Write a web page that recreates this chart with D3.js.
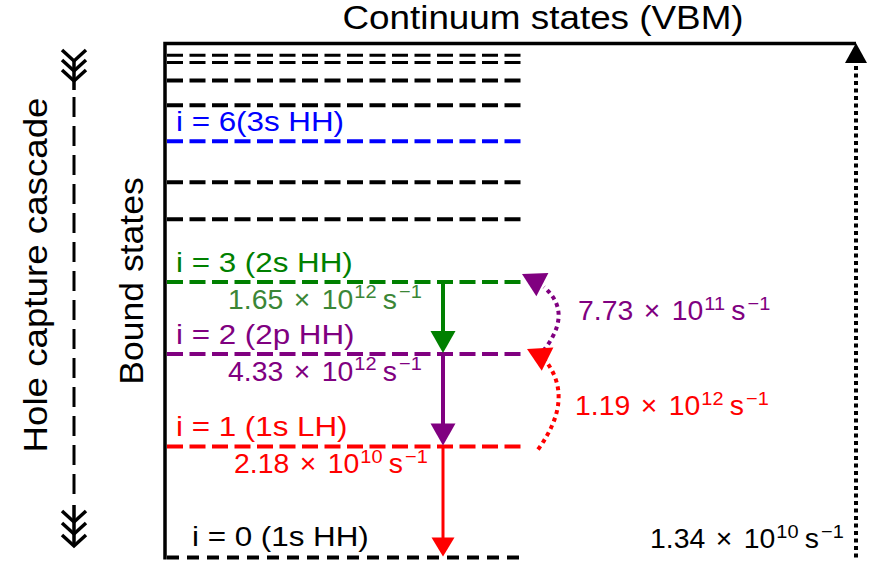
<!DOCTYPE html>
<html>
<head>
<meta charset="utf-8">
<script src="https://cdn.jsdelivr.net/npm/d3@7"></script>
<style>
  html, body { margin: 0; padding: 0; background: #fff; }
  svg { display: block; font-family: "Liberation Sans", Arial, Helvetica, sans-serif; }
</style>
</head>
<body>
<svg id="chart" width="871" height="565"></svg>
<script>
// Hole bound-state ladder, heights on a 0 (ground state) .. 100 (VBM) scale
const levelIndex  = [0, 1, 2, 3, 4, 5, 6, 7, 8, 9, 10];
const levelHeight = [0, 21.6, 39.6, 53.6, 65.8, 73.0, 81.0, 88.0, 92.8, 96.3, 97.7];
const levelColor  = ["black", "red", "purple", "green", "black", "black", "blue", "black", "black", "black", "black"];
const levelLabel  = ["i = 0 (1s HH)", "i = 1 (1s LH)", "i = 2 (2p HH)", "i = 3 (2s HH)", "", "", "i = 6(3s HH)", "", "", "", ""];
const vbmHeight = 100;

// Downward relaxation steps of the capture cascade
const cascadeFrom     = [3, 2, 1];
const cascadeTo       = [2, 1, 0];
const cascadeMantissa = ["1.65", "4.33", "2.18"];
const cascadeExponent = ["12", "12", "10"];
const cascadeTextColor = ["#3b8636", "purple", "red"];

// Upward re-excitation between the lowest excited states
const upFrom     = [2, 1];
const upTo       = [3, 2];
const upMantissa = ["7.73", "1.19"];
const upExponent = ["11", "12"];

// Escape from the ground state back to the continuum
const escapeMantissa = "1.34";
const escapeExponent = "10";

const svg = d3.select("#chart");
const FONT = 28.5;

const y = d3.scaleLinear().domain([0, vbmHeight]).range([557.5, 43.5]);
const frameLeft = 165, frameRight = 856;
const lineX0 = 167, lineX1 = 521;
const arrowX = 443;

// ---- frame: left edge (bound states) and the continuum edge on top
svg.append("path")
  .attr("d", `M${frameLeft},${y(0) + 2}V${y(vbmHeight)}H${frameRight}`)
  .attr("fill", "none").attr("stroke", "black").attr("stroke-width", 3.5);

svg.append("g").attr("transform", `translate(543,29) scale(1.1,1)`)
  .append("text").attr("text-anchor", "middle").attr("font-size", 33.5)
  .text("Continuum states (VBM)");

// ---- level lines
const levels = levelIndex.map((i, k) => ({ i, h: levelHeight[k], color: levelColor[k], label: levelLabel[k] }));

svg.append("g").selectAll("line").data(levels).join("line")
  .attr("x1", lineX0).attr("x2", lineX1)
  .attr("y1", d => y(d.h)).attr("y2", d => y(d.h))
  .attr("stroke", d => d.color)
  .attr("stroke-width", d => d.i >= 9 ? 3 : 4)
  .attr("stroke-dasharray", d => d.i === 0 ? "12,8" : "16,6.5");

// level labels
svg.append("g").selectAll("g").data(levels.filter(d => d.label)).join("g")
  .attr("transform", d => d.i === 0
      ? `translate(192,${y(d.h) - 12}) scale(1.1,1)`
      : `translate(176,${y(d.h) - 10}) scale(1.1,1)`)
  .append("text")
  .attr("font-size", FONT)
  .attr("fill", d => d.color)
  .text(d => d.label);

// ---- helpers
function triangle(tip, dir, len, hw) {
  const n = Math.hypot(dir[0], dir[1]);
  const ux = dir[0] / n, uy = dir[1] / n;
  const bx = tip[0] - ux * len, by = tip[1] - uy * len;
  return `M${tip[0]},${tip[1]}L${bx - uy * hw},${by + ux * hw}L${bx + uy * hw},${by - ux * hw}Z`;
}

function rateLabel(x, yb, mant, exp, color) {
  const g = svg.append("g").attr("transform", `translate(${x},${yb}) scale(1.05,1)`);
  const t = g.append("text").attr("font-size", 27).attr("fill", color);
  t.append("tspan").text(mant);
  t.append("tspan").attr("dx", 10).text("\u00d7");
  t.append("tspan").attr("dx", 11).text("10");
  t.append("tspan").attr("dx", 1).attr("dy", -10.5).attr("font-size", 19).text(exp);
  t.append("tspan").attr("dx", 6).attr("dy", 10.5).text("s");
  t.append("tspan").attr("dx", 2).attr("dy", -10.5).attr("font-size", 19).text("\u22121");
}

// ---- downward cascade arrows
const hOf = i => levelHeight[levelIndex.indexOf(i)];
cascadeFrom.forEach((f, k) => {
  const t = cascadeTo[k];
  const y0 = y(hOf(f)), y1 = y(hOf(t));
  const col = levelColor[levelIndex.indexOf(f)];
  const isLast = t === 0;
  const headLen = isLast ? 19 : 22, hw = isLast ? 11.5 : 12.5;
  svg.append("line")
    .attr("x1", arrowX).attr("x2", arrowX)
    .attr("y1", y0).attr("y2", y1 - headLen + 1)
    .attr("stroke", col).attr("stroke-width", isLast ? 3 : 4);
  svg.append("path").attr("d", triangle([arrowX, y1 - 1], [0, 1], headLen, hw)).attr("fill", col);
  rateLabel(isLast ? 234 : 228, y0 + 27, cascadeMantissa[k], cascadeExponent[k], cascadeTextColor[k]);
});

// ---- upward dotted re-excitation arrows
const upLabelPos = [[578, 320], [575, 415]];
upFrom.forEach((f, k) => {
  const t = upTo[k];
  const y0 = y(hOf(f)), y1 = y(hOf(t));
  const col = levelColor[levelIndex.indexOf(f)];
  const p0 = [538, y0 + 3], p2 = [544, y1 + 5], p1 = [576, (y0 + y1) / 2 - 3];
  const p = d3.path();
  p.moveTo(p0[0], p0[1]);
  p.quadraticCurveTo(p1[0], p1[1], p2[0], p2[1]);
  svg.append("path").attr("d", p.toString())
    .attr("fill", "none").attr("stroke", col).attr("stroke-width", 4)
    .attr("stroke-dasharray", "4,4");
  const tip = [f === 2 ? 522 : 527, y1 - (f === 2 ? 8 : 5)];
  svg.append("path").attr("d", triangle(tip, [tip[0] - (p2[0] + 1), tip[1] - (p2[1] - 1)], 23, 13)).attr("fill", col);
  rateLabel(upLabelPos[k][0], upLabelPos[k][1], upMantissa[k], upExponent[k], col);
});

// ---- escape to the continuum
svg.append("line")
  .attr("x1", frameRight).attr("x2", frameRight)
  .attr("y1", y(0)).attr("y2", y(vbmHeight) + 19)
  .attr("stroke", "black").attr("stroke-width", 4).attr("stroke-dasharray", "4,3.5");
svg.append("path").attr("d", triangle([frameRight, y(vbmHeight) - 0.5], [0, -1], 20, 11)).attr("fill", "black");
rateLabel(650, 548, escapeMantissa, escapeExponent, "black");

// ---- axis titles
svg.append("g").attr("transform", "translate(46.5,275) rotate(-90) scale(1.08,1)")
  .append("text").attr("text-anchor", "middle").attr("font-size", 34).text("Hole capture cascade");
svg.append("g").attr("transform", "translate(143,281) rotate(-90) scale(1.045,1)")
  .append("text").attr("text-anchor", "middle").attr("font-size", 34).text("Bound states");

// ---- cascade direction arrow with fletching and head
const cx = 74;
function chevron(vy, hw, h) {
  return `M${cx - hw},${vy - h}L${cx},${vy}L${cx + hw},${vy - h}`;
}
const casc = svg.append("g").attr("stroke", "black").attr("fill", "none").attr("stroke-width", 3.5);
[61, 71, 81].forEach(v => casc.append("path").attr("d", chevron(v, 12, 11)));
casc.append("line").attr("x1", cx).attr("x2", cx).attr("y1", 61).attr("y2", 90);
casc.append("line").attr("x1", cx).attr("x2", cx).attr("y1", 97).attr("y2", 500)
  .attr("stroke-width", 3).attr("stroke-dasharray", "20,9");
casc.append("line").attr("x1", cx).attr("x2", cx).attr("y1", 505).attr("y2", 546);
[522, 534, 546].forEach(v => casc.append("path").attr("d", chevron(v, 12, 11)));
</script>
</body>
</html>
